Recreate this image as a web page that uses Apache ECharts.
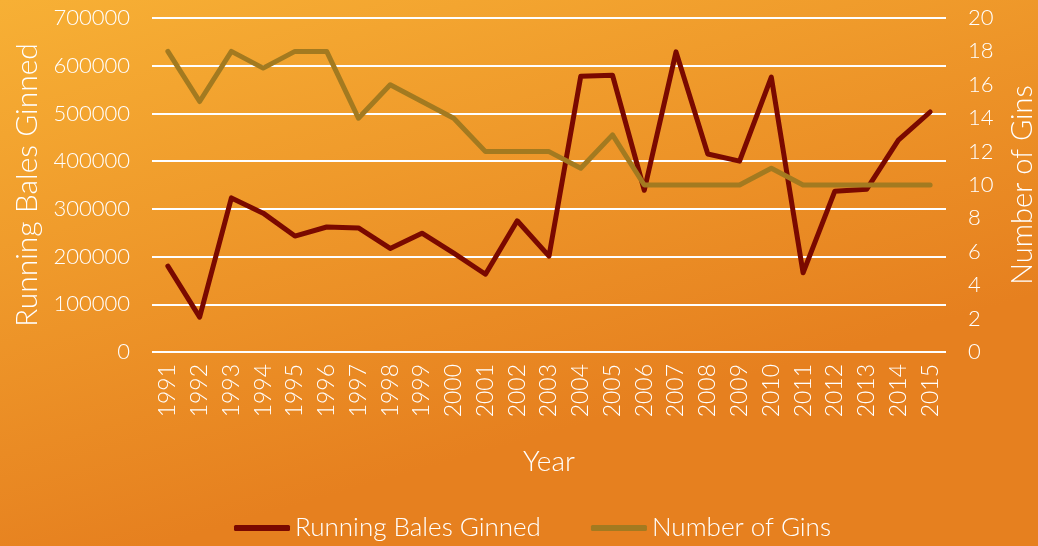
<!DOCTYPE html>
<html>
<head>
<meta charset="utf-8">
<title>Running Bales Ginned / Number of Gins</title>
<script src="https://cdn.jsdelivr.net/npm/echarts@6/dist/echarts.min.js"></script>
<style>
  html, body { margin: 0; padding: 0; }
  #chart { width: 1038px; height: 546px; }
</style>
</head>
<body>
<div id="chart"></div>
<script>
// data
const years = ["1991", "1992", "1993", "1994", "1995", "1996", "1997", "1998", "1999", "2000",
  "2001", "2002", "2003", "2004", "2005", "2006", "2007", "2008", "2009", "2010",
  "2011", "2012", "2013", "2014", "2015"];
const balesGinned = [180000, 73000, 323000, 291000, 243000, 262000, 260000, 217000, 249000, 207000,
  163000, 275000, 201000, 578000, 580000, 339000, 629000, 415000, 400000, 576000,
  166000, 337000, 341000, 444000, 503000];
const numberOfGins = [18, 15, 18, 17, 18, 18, 14, 16, 15, 14,
  12, 12, 12, 11, 13, 10, 10, 10, 10, 11,
  10, 10, 10, 10, 10];

const font = "Lato";
const txt = "#ffffff";
const weight = 300;

const chart = echarts.init(document.getElementById("chart"));
chart.setOption({
  backgroundColor: new echarts.graphic.LinearGradient(0, 0, 0.15, 1, [
    { offset: 0, color: "#F7B035" },
    { offset: 1, color: "#E6801F" }
  ]),
  textStyle: { fontFamily: font, color: txt, fontWeight: weight },
  grid: { left: 152, right: 92, top: 18, bottom: 194, outerBoundsMode: "none", containLabel: false },
  legend: {
    bottom: 0,
    left: 229,
    itemWidth: 56,
    itemHeight: 6,
    itemGap: 50,
    icon: "roundRect",
    textStyle: { color: txt, fontSize: 26, fontFamily: font, fontWeight: weight },
    data: ["Running Bales Ginned", "Number of Gins"]
  },
  xAxis: {
    type: "category",
    data: years,
    boundaryGap: true,
    name: "Year",
    nameLocation: "middle",
    nameGap: 96,
    nameTextStyle: { color: txt, fontSize: 28, fontFamily: font, fontWeight: weight },
    axisLine: { show: false },
    axisTick: { show: false },
    axisLabel: { rotate: 90, color: txt, fontSize: 23, margin: 12, interval: 0, fontWeight: weight }
  },
  yAxis: [
    {
      type: "value",
      min: 0,
      max: 700000,
      interval: 100000,
      name: "Running Bales Ginned",
      nameLocation: "middle",
      nameGap: 110,
      nameTextStyle: { color: txt, fontSize: 30, fontFamily: font, fontWeight: weight },
      axisLine: { show: false },
      axisTick: { show: false },
      axisLabel: { color: txt, fontSize: 22, margin: 22, fontWeight: weight, formatter: (v) => String(v) },
      splitLine: { lineStyle: { color: "#ffffff", width: 2 } }
    },
    {
      type: "value",
      min: 0,
      max: 20,
      interval: 2,
      name: "Number of Gins",
      nameLocation: "middle",
      nameGap: 62,
      nameRotate: 90,
      nameTextStyle: { color: txt, fontSize: 29, fontFamily: font, fontWeight: weight },
      axisLine: { show: false },
      axisTick: { show: false },
      axisLabel: { color: txt, fontSize: 22, margin: 22, fontWeight: weight },
      splitLine: { show: false }
    }
  ],
  series: [
    {
      name: "Running Bales Ginned",
      type: "line",
      yAxisIndex: 0,
      data: balesGinned,
      symbol: "none",
      color: "#7A0900",
      lineStyle: { width: 5, cap: "round", join: "round" }
    },
    {
      name: "Number of Gins",
      type: "line",
      yAxisIndex: 1,
      data: numberOfGins,
      symbol: "none",
      color: "#A37A20",
      lineStyle: { width: 5, cap: "round", join: "round" }
    }
  ]
});
</script>
</body>
</html>
